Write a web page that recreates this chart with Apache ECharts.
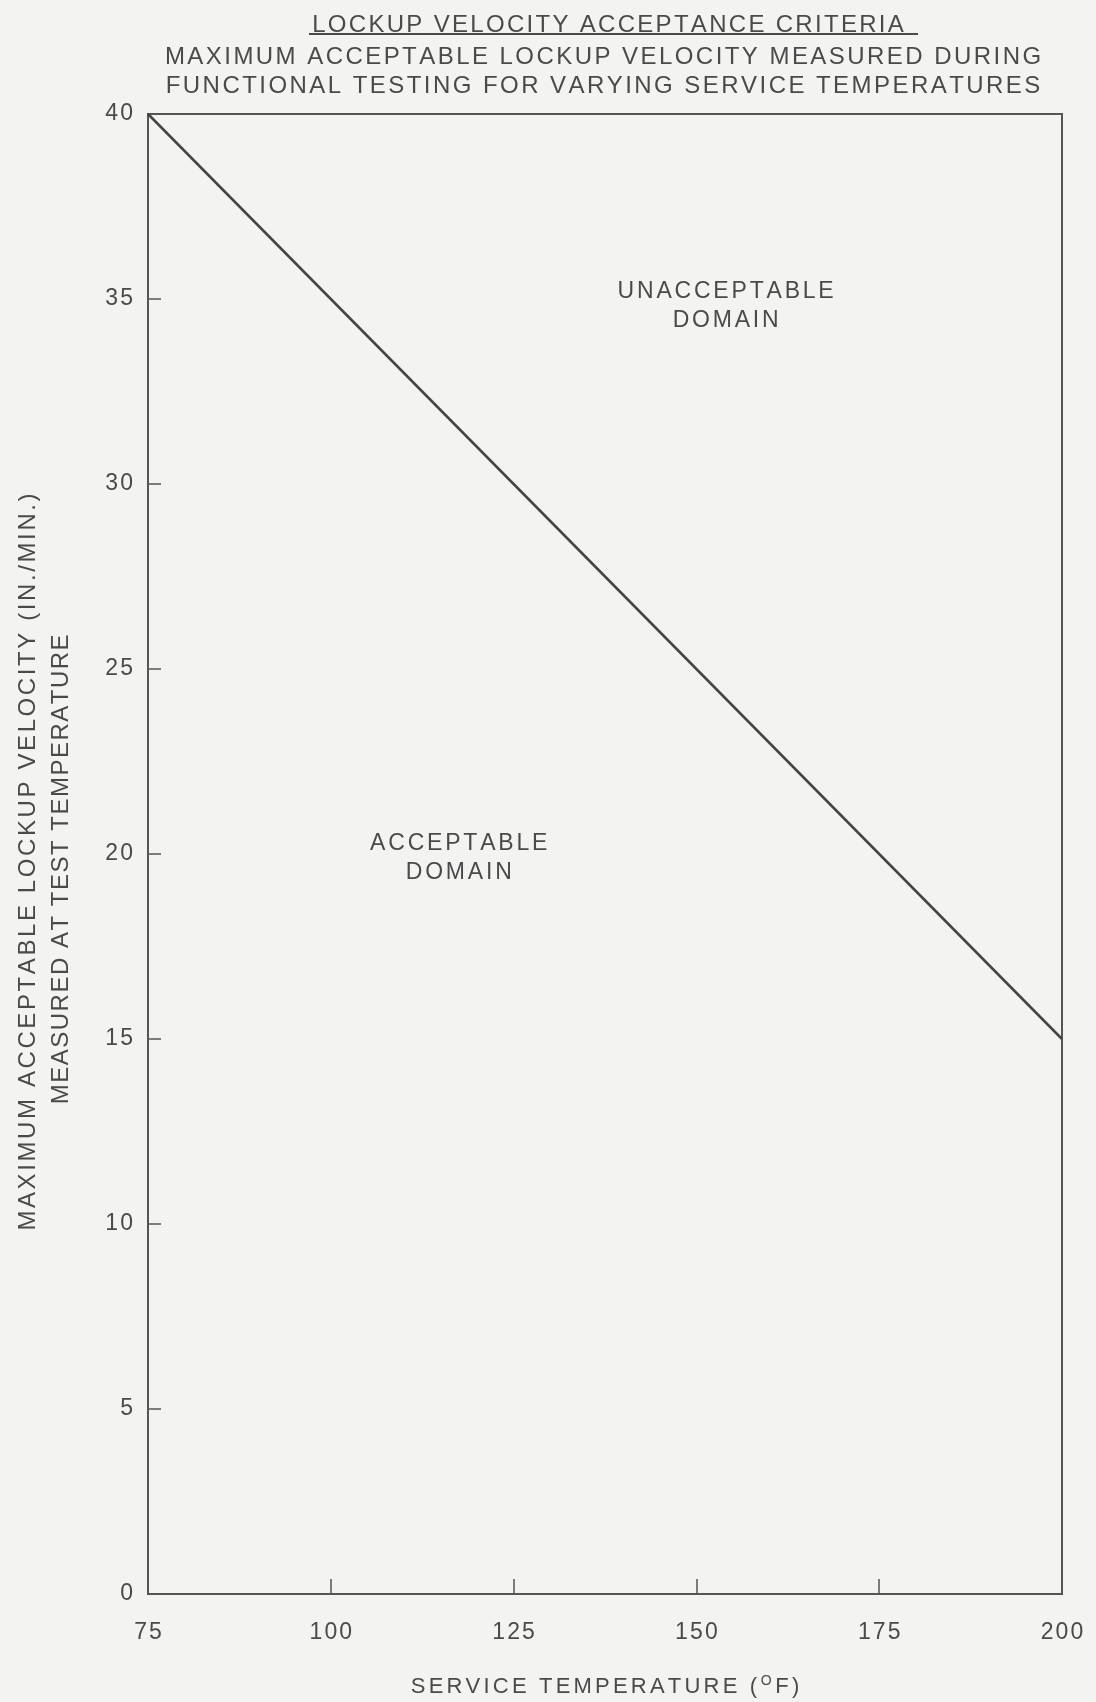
<!DOCTYPE html>
<html>
<head>
<meta charset="utf-8">
<script src="https://cdn.jsdelivr.net/npm/echarts@6/dist/echarts.min.js"></script>
<style>
html,body{margin:0;padding:0;background:#f3f3f1;}
#chart{width:1096px;height:1702px;}
</style>
</head>
<body>
<div id="chart"></div>
<script>
const serviceTemp = [75, 200];
const maxVelocity = [40, 15];
const xTicks = [75, 100, 125, 150, 175, 200];
const yTicks = [0, 5, 10, 15, 20, 25, 30, 35, 40];
const domainLabels = [
  { name: 'UNACCEPTABLE\nDOMAIN', coord: [154, 34.8] },
  { name: 'ACCEPTABLE\nDOMAIN', coord: [117.5, 19.9] }
];

const textColor = '#4a4a4a';
const lineColor = '#555';
const fontFam = '"Liberation Sans", Arial, sans-serif';

// wrap each character in a rich-text token so letter spacing can be applied
function sp(str, style) {
  return str.split('\n').map(line => Array.from(line).map(ch => '{' + style + '|' + ch + '}').join('')).join('\n');
}
function ch(fs, gap, lh) {
  return { fontFamily: fontFam, fontSize: fs, fontWeight: 'normal', color: textColor,
    padding: [0, gap / 2, 0, gap / 2], lineHeight: lh };
}

const chart = echarts.init(document.getElementById('chart'), null, { renderer: 'canvas' });
chart.setOption({
  backgroundColor: '#f3f3f1',
  animation: false,
  title: [
    { text: sp('LOCKUP VELOCITY ACCEPTANCE CRITERIA', 'c'), left: 603, top: 8, textAlign: 'center',
      textStyle: { fontWeight: 'normal', rich: { c: ch(24, 2.3, 25) } } },
    { text: sp('MAXIMUM ACCEPTABLE LOCKUP VELOCITY MEASURED DURING\nFUNCTIONAL TESTING FOR VARYING SERVICE TEMPERATURES', 'c'),
      left: 598, top: 38, textAlign: 'center',
      textStyle: { fontWeight: 'normal', rich: { c: ch(24, 2.45, 29) } } }
  ],
  graphic: [
    { type: 'line', shape: { x1: 309, y1: 34, x2: 918, y2: 34 }, style: { stroke: textColor, lineWidth: 2 } }
  ],
  grid: { left: 148, right: 34, top: 114, bottom: 108, outerBoundsMode: 'none', containLabel: false,
    show: true, borderColor: lineColor, borderWidth: 2, backgroundColor: 'transparent' },
  xAxis: {
    type: 'value', min: 75, max: 200, interval: 25,
    name: sp('SERVICE TEMPERATURE (', 't') + '{s|O}' + sp('F)', 't'),
    nameLocation: 'middle', nameGap: 80,
    nameTextStyle: { rich: {
      t: ch(22, 3.2, 26),
      s: { fontFamily: fontFam, fontSize: 14, color: textColor, verticalAlign: 'top', padding: [0, 2, 10, 2] }
    } },
    axisLine: { show: true, lineStyle: { color: lineColor, width: 2 } },
    axisTick: { show: true, inside: true, length: 15, lineStyle: { color: lineColor, width: 1.5 } },
    axisLabel: { margin: 27, rich: { n: ch(23, 2.1, 24) },
      formatter: v => xTicks.includes(v) ? sp(String(v), 'n') : '' },
    splitLine: { show: false }
  },
  yAxis: {
    type: 'value', min: 0, max: 40, interval: 5,
    name: sp('MAXIMUM ACCEPTABLE LOCKUP VELOCITY (IN./MIN.)', 'a') + '\n' + sp('MEASURED AT TEST TEMPERATURE', 'b') + '{e| }',
    nameLocation: 'middle', nameRotate: 90, nameGap: 70,
    nameTextStyle: { padding: [0, 16, 0, 0], rich: { a: ch(24, 2.6, 33), b: ch(24, 1.5, 33),
      e: { fontFamily: fontFam, fontSize: 24, lineHeight: 33, padding: [0, 0, 0, 8] } } },
    axisLine: { show: true, lineStyle: { color: lineColor, width: 2 } },
    axisTick: { show: true, inside: true, length: 13, lineStyle: { color: lineColor, width: 1.5 } },
    axisLabel: { margin: 14, rich: { n: ch(23, 2.1, 24) },
      formatter: v => yTicks.includes(v) ? sp(String(v), 'n') : '' },
    splitLine: { show: false }
  },
  series: [
    {
      type: 'line',
      data: serviceTemp.map((t, i) => [t, maxVelocity[i]]),
      symbol: 'none',
      lineStyle: { color: '#444', width: 2.5 },
      markPoint: {
        symbol: 'circle', symbolSize: 0,
        label: { show: true, position: 'inside', align: 'center',
          formatter: p => sp(p.name, 'd'), rich: { d: ch(23, 2.8, 29) } },
        data: domainLabels.map(d => ({ name: d.name, coord: d.coord }))
      }
    }
  ]
});
</script>
</body>
</html>
